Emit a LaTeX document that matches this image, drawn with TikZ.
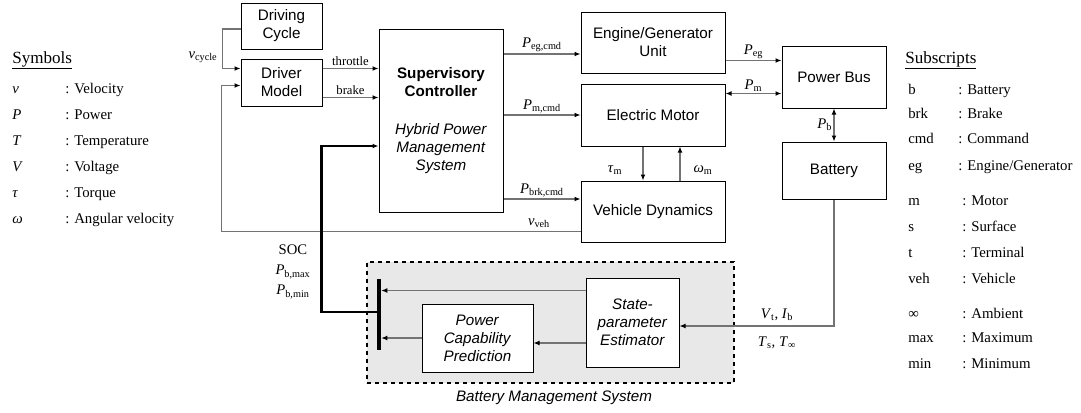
\documentclass[tikz,border=0pt]{standalone}
\usepackage{fontspec}
\setmainfont{Liberation Serif}
\newfontfamily\arialf{Liberation Sans}
\usetikzlibrary{arrows.meta,calc}

\definecolor{wire}{gray}{0.45}
\definecolor{bmsfill}{gray}{0.91}
\newcommand{\sig}[2]{\textit{#1}\textsubscript{#2}}

\tikzset{
  wtip/.tip={Latex[length=4.5pt,width=3.6pt,color=black]},
  blk/.style={draw, line width=0.75pt, fill=white, align=center, inner sep=0pt,
    font=\arialf\fontsize{11.4}{13.5}\selectfont},
  con/.style={draw=wire, line width=0.8pt, -wtip},
  dcon/.style={draw=wire, line width=0.8pt, wtip-wtip},
  lbl/.style={font=\fontsize{11}{13}\selectfont, inner sep=1pt},
  sml/.style={font=\fontsize{9.5}{11}\selectfont, inner sep=1.5pt},
  key/.style={anchor=base west, inner sep=0pt, font=\fontsize{11.1}{13}\selectfont},
  head/.style={anchor=base west, inner sep=0pt, font=\fontsize{12.8}{15}\selectfont},
}

\begin{document}
\begin{tikzpicture}[x=0.75pt,y=-0.75pt]
\useasboundingbox (0,0) rectangle (1081,412);

% Battery management system
\node[draw, dashed, line width=1.1pt, fill=bmsfill, minimum width=275.25pt, minimum height=90.75pt, inner sep=0pt] (bms) at (550.5,322.5) {};
\node[font=\arialf\itshape\fontsize{11.4}{13.5}\selectfont] (bmsl) at (554,398) {Battery Management System};

% Blocks
\node[blk, minimum width=60.75pt, minimum height=34.5pt] (cyc) at (281.5,26) {Driving\\Cycle};
\node[blk, minimum width=60.75pt, minimum height=35.25pt] (drv) at (281.5,82.5) {Driver\\Model};
\node[blk, minimum width=93pt, minimum height=137.25pt] (sup) at (441,120.5)
  {\textbf{Supervisory}\\\textbf{Controller}\\[15pt]\textit{Hybrid Power}\\\textit{Management}\\\textit{System}};
\node[blk, minimum width=108pt, minimum height=45.75pt] (eng) at (653,42.5) {Engine/Generator\\Unit};
\node[blk, minimum width=108pt, minimum height=46.5pt] (mot) at (653,115) {Electric Motor};
\node[blk, minimum width=108pt, minimum height=45.75pt] (veh) at (653,211.5) {Vehicle Dynamics};
\node[blk, minimum width=78pt, minimum height=46.5pt] (bus) at (834,77) {Power Bus};
\node[blk, minimum width=78pt, minimum height=42.75pt] (bat) at (834,170.5) {Battery};
\node[blk, minimum width=83.25pt, minimum height=51pt] (pcp) at (477.5,338) {\textit{Power}\\\textit{Capability}\\\textit{Prediction}};
\node[blk, minimum width=69.75pt, minimum height=66.75pt] (est) at (632.5,322.5) {\textit{State-}\\\textit{parameter}\\\textit{Estimator}};
\node[fill=black, minimum width=3pt, minimum height=53.25pt, inner sep=0pt] (bar) at (379,314.5) {};

% Driver inputs
\draw[con] ($(cyc.west)+(0,3)$) -- ++(-18,0) |- ($(drv.north west)+(0,10)$);
\node[lbl] (vcyc) at (203,57) {\sig{v}{cycle}};
\draw[con] ($(veh.south west)+(0,-11)$) -- ++(-359,0) |- ($(drv.south west)+(0,-21)$);
\node[lbl] (vvel) at (539,223) {\sig{v}{veh}};

% Driver outputs
\coordinate (thr) at ($(drv.north east)+(0,10)$);
\coordinate (brk) at ($(drv.south east)+(0,-9)$);
\draw[con] (thr) -- (thr -| sup.west) node[midway, above, sml] {throttle};
\draw[con] (brk) -- (brk -| sup.west) node[midway, above, sml] {brake};

% Controller commands
\coordinate (peg) at ($(eng.west)+(0,11.5)$);
\coordinate (pbr) at ($(veh.west)+(0,-12.5)$);
\draw[con] (peg -| sup.east) -- (peg) node[midway, above, lbl] {\sig{P}{eg,cmd}};
\draw[con] (mot.west -| sup.east) -- (mot.west) node[midway, above, lbl] {\sig{P}{m,cmd}};
\draw[con] (pbr -| sup.east) -- (pbr) node[midway, above, lbl] {\sig{P}{brk,cmd}};

% Motor and vehicle
\draw[con] ($(mot.south)+(-10,0)$) -- ($(veh.north)+(-10,0)$);
\draw[con] ($(veh.north)+(27,0)$) -- ($(mot.south)+(27,0)$);
\node[lbl] (taum) at (615,170) {\textit{τ}\textsubscript{m}};
\node[lbl] (omgm) at (703,170) {\textit{ω}\textsubscript{m}};

% Power flows
\coordinate (pegb) at ($(bus.north west)+(0,15)$);
\coordinate (pmb) at ($(mot.north east)+(0,10)$);
\draw[con] (pegb -| eng.east) -- (pegb) node[midway, above, lbl] {\sig{P}{eg}};
\draw[dcon] (pmb) -- (pmb -| bus.west) node[midway, above, lbl] {\sig{P}{m}};
\draw[dcon] (bus.south) -- (bat.north) node[midway, left, lbl] {\sig{P}{b}};

% Battery measurements
\draw[con] (bat.south) |- ($(est.east)+(0,3.5)$);
\node[lbl] (vi) at (777,315) {\sig{V}{t}, \sig{I}{b}};
\node[lbl] (ts) at (777,343) {\sig{T}{s}, \sig{T}{∞}};

% Inside BMS
\coordinate (eu) at ($(est.north west)+(0,13)$);
\coordinate (el) at ($(est.west)+(0,20.5)$);
\draw[con] (eu) -- (eu -| bar.east);
\draw[con] (pcp.west) -- (pcp.west -| bar.east);
\draw[con] (el) -- (el -| pcp.east);

% BMS outputs to controller
\coordinate (socin) at ($(sup.west)+(0,25.5)$);
\draw[line width=2pt, -wtip] ($(bar.west)+(0,-2.5)$) -| ($(socin)+(-57,0)$) -- (socin);
\node[align=center, inner sep=0pt, font=\fontsize{11}{15}\selectfont] (socl) at (293,272) {SOC\\\sig{P}{b,max}\\\sig{P}{b,min}};

% Symbols
\node[head] (symh) at (12,63) {\underline{Symbols}};
\foreach \s/\t [count=\i] in {v/Velocity, P/Power, T/Temperature, V/Voltage, τ/Torque, ω/Angular velocity} {
  \node[key] (sym\i) at (12,67+26*\i) {\textit{\s}};
  \node[key] (symt\i) at (65,67+26*\i) {: \t};
}

% Subscripts
\node[head] (subh) at (905,63) {\underline{Subscripts}};
\foreach \y/\s/\x/\t [count=\i] in {89/b/958/Battery, 113/brk/958/Brake, 138/cmd/958/Command, 165/eg/958/{Engine/Generator},
  200/m/962/Motor, 226/s/962/Surface, 252/t/962/Terminal, 278/veh/962/Vehicle, 313/∞/962/Ambient, 337/max/962/Maximum, 363/min/962/Minimum} {
  \node[key] (sub\i) at (908,\y+5) {\s};
  \node[key] (subt\i) at (\x,\y+5) {: \t};
}

\end{tikzpicture}
\end{document}
